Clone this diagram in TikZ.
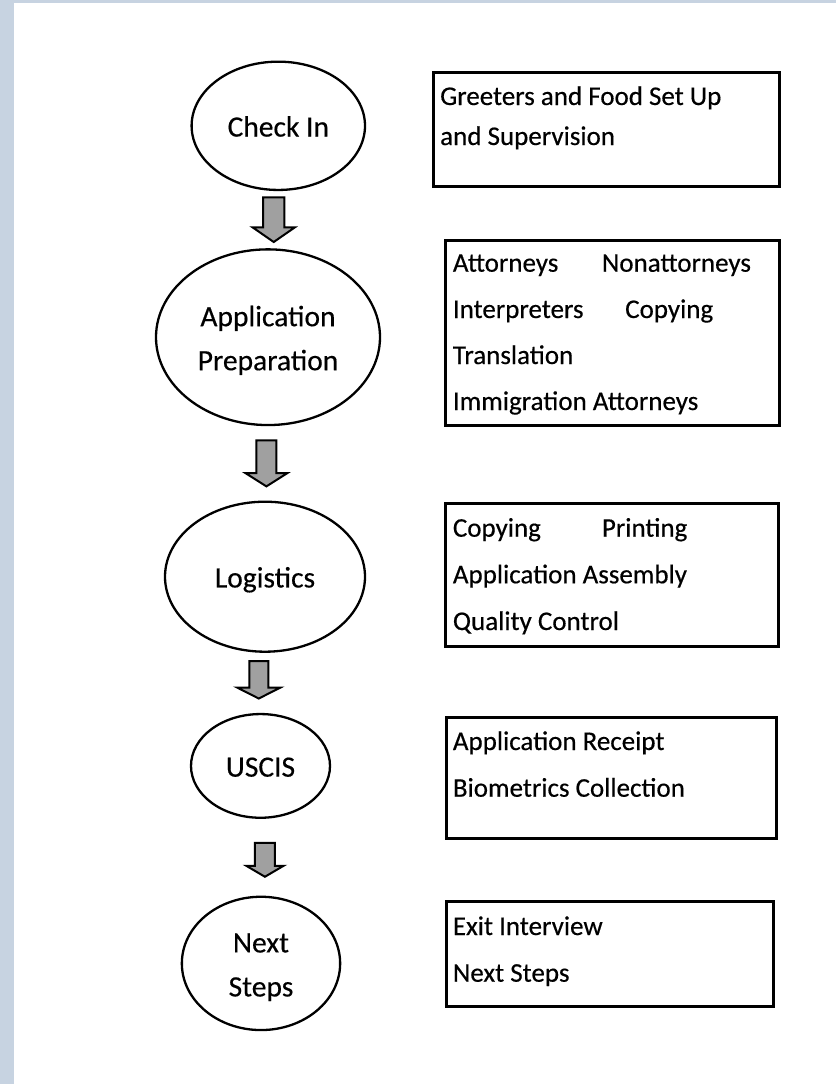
\documentclass[tikz,border=0pt]{standalone}
\usepackage{fontspec}
\setmainfont{Carlito}[FakeBold=0.4]
\usetikzlibrary{shapes.geometric}
\definecolor{frameblue}{RGB}{199,211,225}
\definecolor{arrowgray}{RGB}{160,160,160}

\begin{document}
\begin{tikzpicture}[x=1pt,y=-1pt,
  stage/.style={ellipse, draw=black, line width=2.3pt, inner sep=0pt,
    align=center, font=\fontsize{29.5}{44}\selectfont},
  oneline/.style={text height=21.5pt, text depth=0pt},
  twolines/.style={text height=66pt, text depth=0pt},
  taskbox/.style={draw=black, line width=3pt, inner sep=0pt},
  tasktext/.style={anchor=base west, inner sep=0pt, font=\fontsize{27}{27}\selectfont},
  arrowbody/.style={fill=arrowgray, draw=black, line width=2pt, line join=miter},
  % block arrow pointing down: #1 length, #2 shaft half width,
  % #3 head half width, #4 head length
  pics/blockarrow/.style n args={4}{code={
    \draw[arrowbody] (-#2,{-#1/2}) -- (#2,{-#1/2}) -- (#2,{#1/2-#4})
      -- (#3,{#1/2-#4}) -- (0,{#1/2}) -- (-#3,{#1/2-#4})
      -- (-#2,{#1/2-#4}) -- cycle;
  }}
]
% page and frame
\fill[white] (0,0) rectangle (836,1084);
\fill[frameblue] (0,0) rectangle (14,1084);
\fill[frameblue] (0,0) rectangle (836,3);
\useasboundingbox (0,0) rectangle (836,1084);

% stages
\node[stage, oneline, minimum width=173.4pt, minimum height=128.3pt] (e1) at (278.3,125.8) {Check In};
\node[stage, twolines, minimum width=224pt, minimum height=175.7pt] (e2) at (268,337.2) {Application\\Preparation};
\node[stage, oneline, minimum width=200pt, minimum height=150pt] (e3) at (265,576.7) {Logistics};
\node[stage, oneline, minimum width=139pt, minimum height=103.7pt] (e4) at (260.5,765.9) {USCIS};
\node[stage, twolines, minimum width=158.3pt, minimum height=133.3pt] (e5) at (261,963.4) {Next\\Steps};

% arrows between stages
\path (e1) -- (e2) pic[pos=0.5] {blockarrow={44.7}{10.7}{21.2}{14.7}};
\path (e2) -- (e3) pic[pos=0.5] {blockarrow={46}{10}{21}{13.3}};
\path (e3) -- (e4) pic[pos=0.5, xshift=-3.7pt, yshift=3pt] {blockarrow={37.3}{9.5}{21.7}{11}};
\path (e4) -- (e5) pic[pos=0.5, xshift=4.2pt, yshift=-2.5pt] {blockarrow={34}{10}{18.7}{11}};

% task boxes
\node[taskbox, minimum width=346pt, minimum height=114.4pt] (b1) at (606.3,129.5) {};
\node[taskbox, minimum width=333.6pt, minimum height=184.3pt] (b2) at (612.5,332.85) {};
\node[taskbox, minimum width=332.6pt, minimum height=143.4pt] (b3) at (612,575) {};
\node[taskbox, minimum width=330.7pt, minimum height=120.7pt] (b4) at (611.35,777.65) {};
\node[taskbox, minimum width=327.3pt, minimum height=104.3pt] (b5) at (609.65,953.85) {};

% task texts
\node[tasktext] (t11) at (440,105) {Greeters and Food Set Up};
\node[tasktext] (t12) at (440,145) {and Supervision};

\node[tasktext] (t21) at (452.7,271.7) {Attorneys};
\node[tasktext] (t22) at (601.7,271.7) {Nonattorneys};
\node[tasktext] (t23) at (452.7,318) {Interpreters};
\node[tasktext] (t24) at (625,318) {Copying};
\node[tasktext] (t25) at (452.7,364) {Translation};
\node[tasktext] (t26) at (452.7,410) {Immigration Attorneys};

\node[tasktext] (t31) at (452.7,536.7) {Copying};
\node[tasktext] (t32) at (601.7,536.7) {Printing};
\node[tasktext] (t33) at (452.7,583.3) {Application Assembly};
\node[tasktext] (t34) at (452.7,630) {Quality Control};

\node[tasktext] (t41) at (452.7,750) {Application Receipt};
\node[tasktext] (t42) at (452.7,796.7) {Biometrics Collection};

\node[tasktext] (t51) at (452.7,935) {Exit Interview};
\node[tasktext] (t52) at (452.7,981.7) {Next Steps};
\end{tikzpicture}
\end{document}
